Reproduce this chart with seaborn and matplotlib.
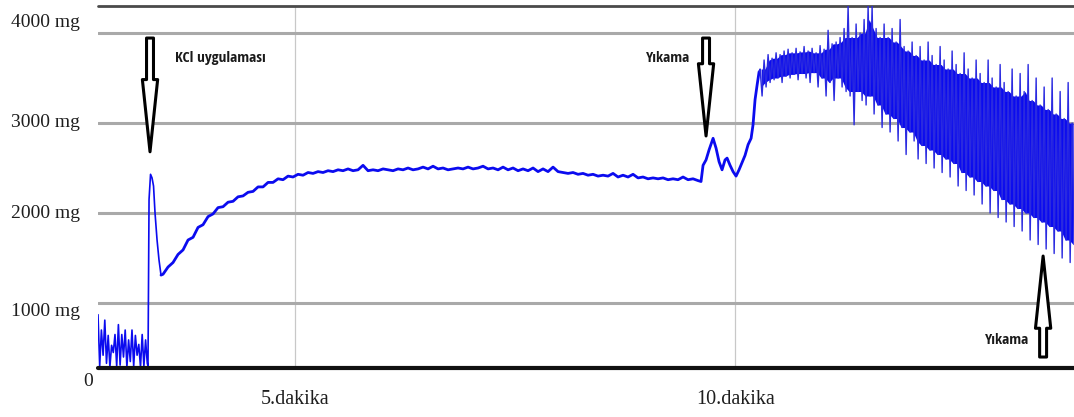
import numpy as np
import pandas as pd
import matplotlib
matplotlib.use("Agg")
import matplotlib.pyplot as plt
import matplotlib.transforms as mtransforms
from matplotlib.patches import FancyArrowPatch
import seaborn as sns
import logging
logging.getLogger("matplotlib.font_manager").setLevel(logging.ERROR)

# ---------------- data (minutes, mg) ----------------
# baseline noise before KCl (uniformly sampled 2.76 -> 3.32 min)
base_span = (2.76, 3.32)
base_mg = [870, 300, 700, 420, 810, 330, 640, 290, 530, 450, 650, 300, 760, 310, 650,
           400, 700, 290, 590, 350, 700, 300, 640, 420, 540, 290, 650, 300, 590, 330]

# KCl jump
kcl_t = [3.328, 3.340, 3.357, 3.374, 3.391, 3.408, 3.431, 3.453, 3.476]
kcl_mg = [300, 2150, 2430, 2390, 2300, 2000, 1700, 1480, 1310]

# recovery and plateau (uniformly sampled 3.50 -> 9.58 min)
plateau_span = (3.499, 9.578)
plateau_mg = [1320, 1400, 1450, 1540, 1590, 1700, 1730, 1840, 1870, 1960, 1990, 2060, 2070,
              2120, 2130, 2180, 2190, 2230, 2240, 2290, 2290, 2340, 2340, 2380, 2370, 2410,
              2400, 2430, 2420, 2450, 2440, 2460, 2450, 2470, 2460, 2480, 2470, 2490, 2470,
              2480, 2530, 2470, 2480, 2470, 2490, 2480, 2470, 2490, 2480, 2500, 2480, 2490,
              2510, 2490, 2520, 2490, 2500, 2480, 2490, 2500, 2490, 2510, 2490, 2500, 2520,
              2490, 2500, 2480, 2510, 2480, 2500, 2470, 2490, 2470, 2500, 2460, 2490, 2460,
              2510, 2460, 2450, 2440, 2450, 2430, 2440, 2420, 2430, 2410, 2420, 2410, 2440,
              2400, 2420, 2400, 2430, 2390, 2400, 2380, 2390, 2380, 2390, 2370, 2380, 2370,
              2400, 2370, 2380, 2360]

# first wash
wash_t = [9.578, 9.612, 9.635, 9.669, 9.703, 9.749, 9.783, 9.817, 9.851, 9.885, 9.908,
          9.942, 9.976, 10.010, 10.044, 10.078, 10.112, 10.147, 10.181, 10.203, 10.226,
          10.249, 10.272]
wash_mg = [2360, 2350, 2530, 2590, 2700, 2830, 2720, 2570, 2480, 2590, 2610, 2530, 2460,
           2410, 2480, 2560, 2640, 2760, 2830, 2980, 3260, 3420, 3570]

# oscillating phase: upper / lower excursions (uniformly sampled 10.28 -> 13.83 min)
osc_span = (10.283, 13.829)
osc_hi = [3600, 3700, 3760, 3720, 3780, 3760, 3800, 3820, 3780, 3830, 3790, 3850, 3800, 3830,
          3780, 3860, 3820, 4030, 3880, 3900, 3950, 4050, 4300, 3950, 4100, 4000, 4150, 4300,
          4300, 4050, 3950, 4100, 3950, 4050, 3900, 4150, 3850, 3800, 3900, 3750, 3850, 3700,
          3900, 3750, 3650, 3850, 3700, 3600, 3800, 3650, 3550, 3780, 3600, 3500, 3700, 3550,
          3450, 3700, 3500, 3400, 3650, 3450, 3350, 3600, 3300, 3550, 3350, 3650, 3250, 3500,
          3200, 3400, 3150, 3500, 3100, 3350, 3050, 3450, 3000]
osc_lo = [3300, 3400, 3450, 3480, 3500, 3450, 3520, 3500, 3540, 3480, 3550, 3500, 3450, 3560,
          3400, 3500, 3300, 3450, 3250, 3500, 3400, 3350, 3300, 2980, 3350, 3250, 3200, 3300,
          3100, 3200, 2950, 3100, 2900, 3050, 2800, 2950, 2650, 2900, 2800, 2600, 2750, 2550,
          2700, 2500, 2650, 2450, 2600, 2400, 2550, 2300, 2450, 2250, 2400, 2200, 2350, 2100,
          2300, 2000, 2250, 1950, 2150, 1900, 2100, 1850, 2050, 1800, 2000, 1700, 1950, 1650,
          1900, 1600, 1850, 1550, 1800, 1500, 1700, 1450, 1650]

# axes text
y_tick_values = [4000, 3000, 2000, 1000, 0]
y_tick_labels = ["4000 mg", "3000 mg", "2000 mg", "1000 mg", "0"]
x_tick_values = [5, 10]
x_tick_labels = ["5.dakika", "10.dakika"]
grid_values = [4000, 3000, 2000, 1000]

# annotations: label, arrow tail (t, mg), arrow tip (t, mg)
notes = [
    ("KCl uygulaması", (3.351, 3944), (3.351, 2680)),
    ("Yıkama", (9.669, 3944), (9.669, 2856)),
    ("Yıkama", (13.499, 400), (13.499, 1522)),
]

# ---------------- build series ----------------
base_t = np.linspace(*base_span, len(base_mg))
plat_t = np.linspace(*plateau_span, len(plateau_mg))
osc_t = np.linspace(*osc_span, len(osc_hi))
dt = osc_t[1] - osc_t[0]
zig_t = np.ravel(np.column_stack([osc_t, osc_t + dt / 2]))
zig_mg = np.ravel(np.column_stack([osc_hi, osc_lo]))

thin = pd.DataFrame({
    "t": np.concatenate([base_t, kcl_t]),
    "mg": np.concatenate([base_mg, kcl_mg]),
})
smooth = pd.DataFrame({
    "t": np.concatenate([kcl_t[-1:], plat_t, wash_t[1:]]),
    "mg": np.concatenate([kcl_mg[-1:], plateau_mg, wash_mg[1:]]),
})
spiky = pd.DataFrame({
    "t": np.concatenate([wash_t[-1:], zig_t]),
    "mg": np.concatenate([wash_mg[-1:], zig_mg]),
})
core = pd.DataFrame({"t": osc_t + dt / 4,
                     "hi": pd.Series(osc_hi).rolling(3, center=True, min_periods=1).min(),
                     "lo": pd.Series(osc_lo).rolling(3, center=True, min_periods=1).max()})

# ---------------- figure ----------------
sns.set_theme(style="white")
W, H = 1074, 417
fig = plt.figure(figsize=(W / 100, H / 100), dpi=100)
fig.patch.set_facecolor("white")
ax = fig.add_axes([98 / W, 49 / H, 976 / W, 362 / H])
ax.set_facecolor("white")
ax.set_xlim(2.76, 13.85)
ax.set_ylim(278, 4300)
for s in ax.spines.values():
    s.set_visible(False)
ax.set_xticks([])
ax.set_yticks([])

# grid
for v in x_tick_values:
    ax.axvline(v, color="#c8c8c8", lw=0.9, zorder=1)
for v in grid_values:
    ax.axhline(v, color="#a9a9a9", lw=2.2, zorder=1)
ax.axhline(4300, color="#4a4a4a", lw=2.0, zorder=1, clip_on=False)
ax.axhline(278, color="#111111", lw=3.0, zorder=4, clip_on=False)

blue = "#0b0bef"
ax.fill_between(core["t"], core["lo"], core["hi"], where=core["hi"] > core["lo"],
                color=blue, lw=0, zorder=2, interpolate=True)
sns.lineplot(data=thin, x="t", y="mg", sort=False, estimator=None, color=blue,
             lw=1.2, ax=ax, zorder=3)
sns.lineplot(data=smooth, x="t", y="mg", sort=False, estimator=None, color=blue,
             lw=2.0, ax=ax, zorder=3)
sns.lineplot(data=spiky, x="t", y="mg", sort=False, estimator=None, color="#2a2ae0",
             lw=1.0, ax=ax, zorder=3)
ax.set_xlabel("")
ax.set_ylabel("")

# tick labels
serif = ["Liberation Serif", "DejaVu Serif"]
y_dy = [11, 1, 0, -8, 12]
y_dx = [-18, -18, -18, -18, -5]
ytrans = mtransforms.blended_transform_factory(ax.transAxes, ax.transData)
for v, lab, dy, dx in zip(y_tick_values, y_tick_labels, y_dy, y_dx):
    tr = mtransforms.offset_copy(ytrans, fig=fig, x=dx, y=dy, units="dots")
    ax.text(0, v, lab, transform=tr, ha="right", va="center", fontsize=14,
            family=serif, color="#1e1e1e", clip_on=False)
xtrans = mtransforms.blended_transform_factory(ax.transData, ax.transAxes)
for v, lab in zip(x_tick_values, x_tick_labels):
    tr = mtransforms.offset_copy(xtrans, fig=fig, x=0, y=-31, units="dots")
    ax.text(v, 0, lab, transform=tr, ha="center", va="center", fontsize=14.5,
            family=serif, color="#1e1e1e", clip_on=False)

# annotations
sans = ["Open Sans Condensed", "Roboto Condensed", "Liberation Sans Narrow", "Roboto",
        "DejaVu Sans"]
text_pos = [(25, -20), (-60, -20), (-58, 17)]  # pixel offsets from arrow tail
for (lab, tail, tip), (dx, dy) in zip(notes, text_pos):
    arr = FancyArrowPatch(posA=tail, posB=tip,
                          arrowstyle="simple,head_length=52,head_width=11,tail_width=5",
                          mutation_scale=1, shrinkA=0, shrinkB=0,
                          fc="white", ec="black", lw=2.2, zorder=6, clip_on=False)
    ax.add_patch(arr)
    tr = mtransforms.offset_copy(ax.transData, fig=fig, x=dx, y=dy, units="dots")
    ax.text(tail[0], tail[1], lab, transform=tr, ha="left", va="center",
            fontsize=11, fontweight="bold", family=sans, color="#1a1a1a", zorder=7)

fig.savefig("out.png", dpi=100, facecolor="white")
